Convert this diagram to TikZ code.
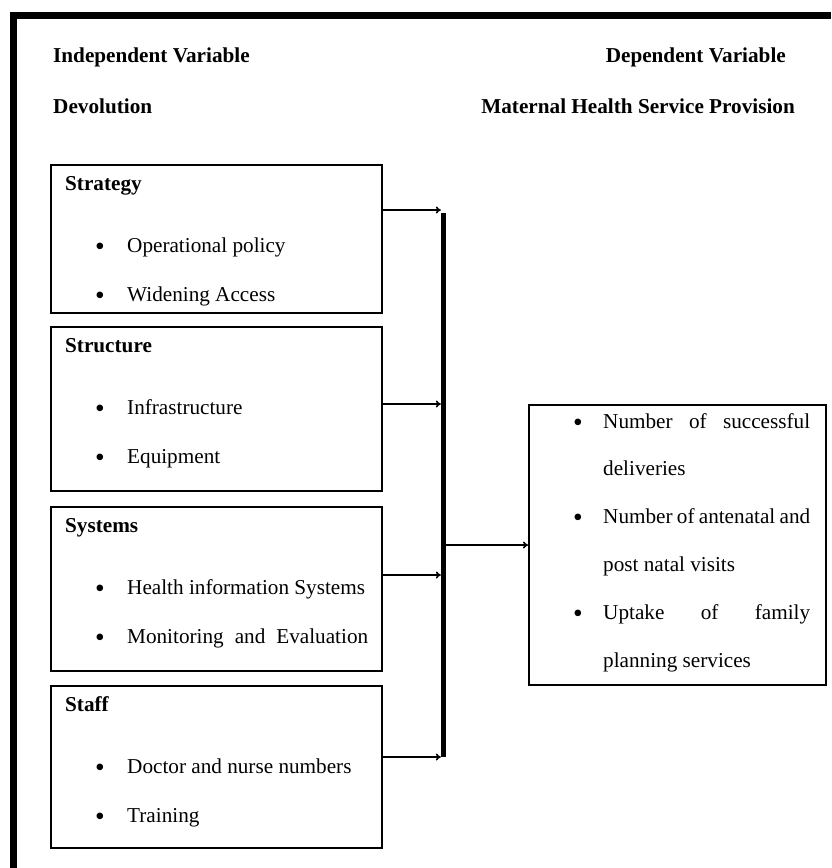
\documentclass[tikz,border=0pt]{standalone}
\usepackage{fontspec}
\setmainfont{Liberation Serif}[Scale=2.12]
\usetikzlibrary{arrows.meta,positioning,calc}
\tikzset{
  varbox/.style={draw,line width=2pt,minimum width=331pt,anchor=north west,inner sep=0pt},
  hd/.style={font=\bfseries,anchor=base west,inner sep=0pt},
  txt/.style={anchor=base west,inner sep=0pt},
  dot/.style={anchor=base,inner sep=0pt,yshift=-3pt},
  flow/.style={-{To[length=5pt,width=7pt]},line width=1.6pt},
}
\newcommand\bul{\scalebox{1.3}{\textbullet}}

\begin{document}
\begin{tikzpicture}[x=1pt,y=-1pt]
  \useasboundingbox (0,0) rectangle (831,868);
  % frame
  \draw[line width=7pt] (13,868) -- (13,15) -- (831,15);
  % headings
  \node[hd] (iv) at (53,62) {Independent Variable};
  \node[hd] (dev) at (53,113) {Devolution};
  \node[hd,anchor=base east] (dv) at (786,62) {Dependent Variable};
  \node[hd,anchor=base east] (mh) at (795,113) {Maternal Health Service Provision};
  % collecting bar
  \node[fill,inner sep=0pt,minimum width=5pt,minimum height=544pt,anchor=north] (bar) at (443.5,213) {};
  % independent variable boxes
  \foreach \n/\t/\h/\o/\ttl/\a/\b in {
    strat/164/148/46/Strategy/Operational policy/Widening Access,
    struc/326/164/78/Structure/Infrastructure/Equipment,
    sys/506/164/69/Systems/Health information Systems/{\makebox[241pt][s]{Monitoring and Evaluation}},
    staff/685/162/72/Staff/Doctor and nurse numbers/Training} {
    \node[varbox,minimum height=\h pt] (\n) at (50,\t) {};
    \node[hd] (\n-h) at ($(\n.north west)+(15,26)$) {\ttl};
    \node[dot] (\n-p) at ($(\n.north west)+(50,88)$) {\bul};
    \node[txt] (\n-a) at ($(\n.north west)+(77,88)$) {\a};
    \node[dot] (\n-q) at ($(\n.north west)+(50,137)$) {\bul};
    \node[txt] (\n-b) at ($(\n.north west)+(77,137)$) {\b};
    \coordinate (\n-o) at ($(\n.north east)+(0,\o)$);
    \draw[flow] (\n-o) -- (\n-o -| bar.west);
  }
  % dependent variable box
  \node[varbox,minimum width=297pt,minimum height=280pt] (res) at (528,404) {};
  \draw[flow] (bar.east |- res.west) -- (res.west);
  \foreach \i/\s in {0/{\makebox[207pt][s]{Number of successful}},1/deliveries,
    2/{\makebox[207pt][s]{Number of antenatal and}},3/post natal visits,
    4/{\makebox[207pt][s]{Uptake of family}},5/planning services}
    \node[txt] (res-\i) at ($(res.north west)+(75,24+47.8*\i)$) {\s};
  \foreach \i in {0,2,4}
    \node[dot] (rb-\i) at ($(res.north west)+(50,24+47.8*\i)$) {\bul};
\end{tikzpicture}
\end{document}
